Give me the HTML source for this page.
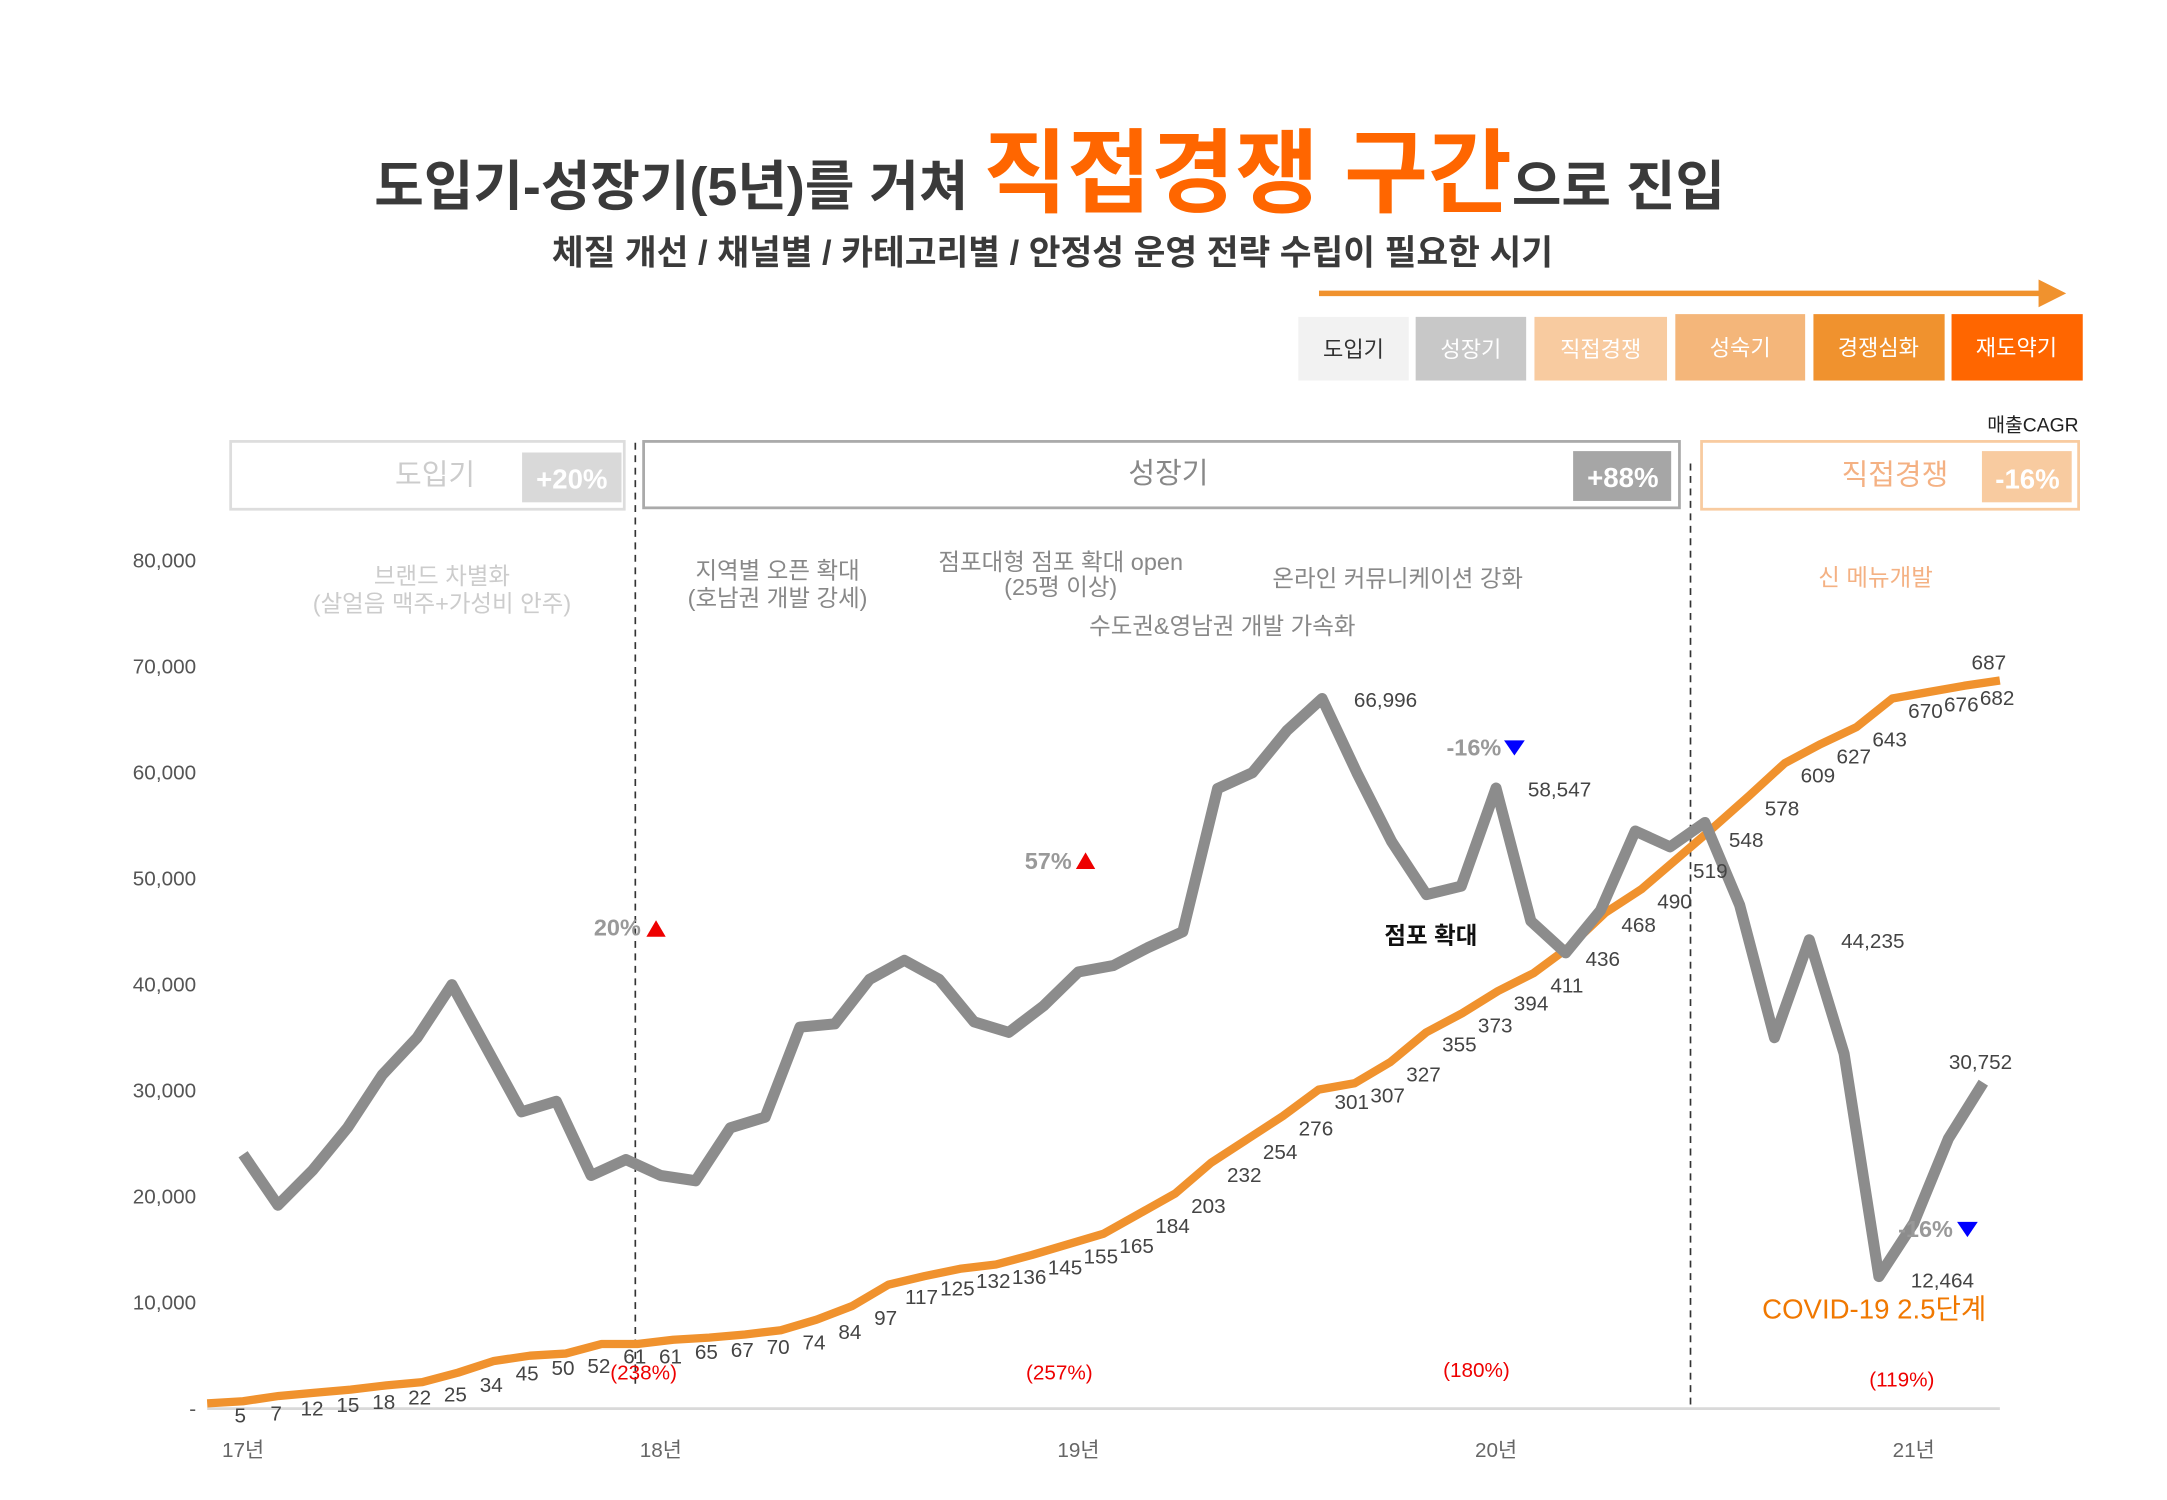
<!DOCTYPE html>
<html><head><meta charset="utf-8">
<style>
html,body{margin:0;padding:0;background:#fff;}
svg{display:block;font-family:"Liberation Sans","Noto Sans CJK KR",sans-serif;}
</style></head>
<body>
<svg id="chart" width="2167" height="1500" viewBox="0 0 1569 1084" preserveAspectRatio="none" xmlns="http://www.w3.org/2000/svg">
<g>
<text x="760" y="148" text-anchor="middle" font-weight="bold" fill="#3a3a3a" font-size="39"><tspan>도입기-성장기(5년)를 거쳐 </tspan><tspan fill="#ff6600" font-size="66">직접경쟁 구간</tspan><tspan>으로 진입</tspan></text>
</g>
<text x="762" y="191" text-anchor="middle" fill="#3a3a3a" font-size="25" font-weight="bold">체질 개선 / 채널별 / 카테고리별 / 안정성 운영 전략 수립이 필요한 시기</text>
<g>
<line x1="955" y1="212" x2="1478" y2="212" stroke="#f0922e" stroke-width="4"/>
<polygon points="1476,202 1496,212 1476,222" fill="#f0922e"/>
</g>
<g font-size="16" text-anchor="middle">
<rect x="940" y="229" width="80" height="46" fill="#f2f2f2"/><text x="980" y="258" fill="#333">도입기</text>
<rect x="1025" y="229" width="80" height="46" fill="#c8c8c8"/><text x="1065" y="258" fill="#fff">성장기</text>
<rect x="1111" y="229" width="96" height="46" fill="#f8cba0"/><text x="1159" y="258" fill="#fff">직접경쟁</text>
<rect x="1213" y="227" width="94" height="48" fill="#f4b67a"/><text x="1260" y="257" fill="#fff">성숙기</text>
<rect x="1313" y="227" width="95" height="48" fill="#f0922e"/><text x="1360" y="257" fill="#fff">경쟁심화</text>
<rect x="1413" y="227" width="95" height="48" fill="#ff6600"/><text x="1460" y="257" fill="#fff">재도약기</text>
</g>
<text x="1505" y="312" text-anchor="end" font-size="14" fill="#222">매출CAGR</text>
<g>
<rect x="167" y="319" width="285" height="49" fill="#fff" stroke="#ddd" stroke-width="2"/>
<text x="315" y="350" text-anchor="middle" font-size="21" fill="#ccc">도입기</text>
<rect x="378" y="327" width="72" height="36" fill="#d9d9d9"/><text x="414" y="353" text-anchor="middle" font-size="20" fill="#fff" font-weight="bold">+20%</text>
<rect x="466" y="319" width="750" height="48" fill="#fff" stroke="#aaa" stroke-width="2"/>
<text x="846" y="349" text-anchor="middle" font-size="21" fill="#888">성장기</text>
<rect x="1139" y="326" width="71" height="36" fill="#a6a6a6"/><text x="1175" y="352" text-anchor="middle" font-size="20" fill="#fff" font-weight="bold">+88%</text>
<rect x="1232" y="319" width="273" height="49" fill="#fff" stroke="#f8cba0" stroke-width="2"/>
<text x="1372" y="350" text-anchor="middle" font-size="21" fill="#f4b183">직접경쟁</text>
<rect x="1435" y="326" width="65" height="37" fill="#f8cba0"/><text x="1468" y="353" text-anchor="middle" font-size="20" fill="#fff" font-weight="bold">-16%</text>
</g>
<g font-size="17" text-anchor="middle">
<text x="320" y="422" fill="#ccc">브랜드 차별화</text><text x="320" y="442" fill="#ccc">(살얼음 맥주+가성비 안주)</text>
<text x="563" y="418" fill="#888">지역별 오픈 확대</text><text x="563" y="438" fill="#888">(호남권 개발 강세)</text>
<text x="768" y="412" fill="#888">점포대형 점포 확대  open</text><text x="768" y="430" fill="#888">(25평 이상)</text>
<text x="1012" y="424" fill="#888">온라인 커뮤니케이션 강화</text>
<text x="885" y="458" fill="#888">수도권&amp;영남권 개발 가속화</text>
<text x="1358" y="423" fill="#f4b183">신 메뉴개발</text>
</g>
<g id="axes"></g>
<g id="marks"></g>
<g font-size="17">
<text x="464" y="676" text-anchor="end" fill="#999" font-weight="bold">20%</text><polygon points="468,677 482,677 475,665" fill="#e00"/>
<text x="776" y="628" text-anchor="end" fill="#999" font-weight="bold">57%</text><polygon points="779,628 793,628 786,616" fill="#e00"/>
<text x="1087" y="546" text-anchor="end" fill="#999" font-weight="bold">-16%</text><polygon points="1089,535 1104,535 1096.5,546" fill="#00f"/>
<text x="1414" y="894" text-anchor="end" fill="#999" font-weight="bold">-16%</text><polygon points="1417,883 1432,883 1424.5,894" fill="#00f"/>
<text x="1036" y="682" text-anchor="middle" fill="#111" font-weight="bold">점포 확대</text>
<text x="1357" y="953" text-anchor="middle" fill="#f07800" font-size="20">COVID-19 2.5단계</text>
<g fill="#e00" font-size="15" text-anchor="middle">
<text x="466" y="997">(238%)</text><text x="767" y="997">(257%)</text><text x="1069" y="995">(180%)</text><text x="1377" y="1002">(119%)</text>
</g>
</g>
<script>
const yTicks=[0,10000,20000,30000,40000,50000,60000,70000,80000];
const yTickLabels=["-","10,000","20,000","30,000","40,000","50,000","60,000","70,000","80,000"];
const xYearLabels=["17년","18년","19년","20년","21년"];
const salesValues=[24000,19200,22500,26500,31500,35000,40000,34000,28000,29000,22000,23500,22000,21500,26500,27500,36000,36300,40500,42300,40500,36500,35500,38000,41200,41800,43500,45000,58500,60000,64000,66996,60000,53500,48500,49300,58547,46000,43000,47000,54500,53000,55300,47500,35000,44235,33500,12464,17500,25500,30752];
const salesLabelIdx=[31,36,45,47,50];
const salesLabelText=["66,996","58,547","44,235","12,464","30,752"];
const storeCounts=[5,7,12,15,18,22,25,34,45,50,52,61,61,65,67,70,74,84,97,117,125,132,136,145,155,165,184,203,232,254,276,301,307,327,355,373,394,411,436,468,490,519,548,578,609,627,643,670,676,682,687];
const NS="http://www.w3.org/2000/svg";
function y(v){return 1018-v*0.00766;}
function xs(i){return 176+i*25.2;}
function xo(i){return 150+i*(1298/(storeCounts.length-1));}
function mk(tag,attrs,parent,txt){const e=document.createElementNS(NS,tag);for(const k in attrs)e.setAttribute(k,attrs[k]);if(txt!==undefined)e.textContent=txt;parent.appendChild(e);return e;}
const axes=document.getElementById('axes'),marks=document.getElementById('marks');
let el=mk('line',{x1:150,y1:y(0),x2:1448,y2:y(0),stroke:'#d9d9d9','stroke-width':2},axes);


yTicks.forEach((v,i)=>{
  const t=mk('text',{x:142,y:y(v)+5,'text-anchor':'end','font-size':15,fill:'#555'},axes,yTickLabels[i]);
  
  
});
xYearLabels.forEach((s,i)=>{
  const t=mk('text',{x:xs(i*12),y:1053,'text-anchor':'middle','font-size':15,fill:'#666'},axes,s);
  
  
});
[[460,320,1000],[1224,335,1018]].forEach(d=>{
  const l=mk('line',{x1:d[0],y1:d[1],x2:d[0],y2:d[2],stroke:'#333','stroke-width':1.2,'stroke-dasharray':'5,4'},axes);
  
  
});
const op=mk('polyline',{points:storeCounts.map((v,i)=>xo(i)+','+y(v*100)).join(' '),fill:'none',stroke:'#f0922e','stroke-width':6,'stroke-linejoin':'round'},marks);


const gp=mk('polyline',{points:salesValues.map((v,i)=>xs(i)+','+y(v)).join(' '),fill:'none',stroke:'#8c8c8c','stroke-width':8,'stroke-linejoin':'round'},marks);


storeCounts.forEach((v,i)=>{
  const last=i===storeCounts.length-1;
  const t=mk('text',{x:xo(i)+(last?-8:24),y:y(v*100)+(last?-8:14),'text-anchor':'middle','font-size':15,fill:'#444'},marks,String(v));
  
  
});
salesLabelIdx.forEach((idx,k)=>{
  const t=mk('text',{x:xs(idx)+(idx===50?-2:46),y:y(salesValues[idx])+(idx===47?8:idx===50?-10:6),'text-anchor':'middle','font-size':15,fill:'#444'},marks,salesLabelText[k]);
  
  
});
</script>
</svg>
</body></html>
